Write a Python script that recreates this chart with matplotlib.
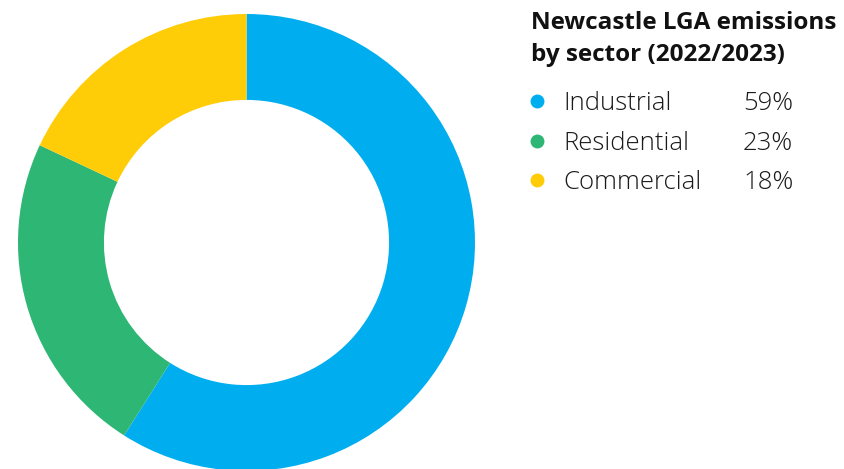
import matplotlib
matplotlib.use("Agg")
import matplotlib.pyplot as plt
from matplotlib.lines import Line2D

sectors = ["Industrial", "Residential", "Commercial"]
shares = [59, 23, 18]
colors = ["#00AEEF", "#2DB674", "#FFCC08"]
title_lines = ["Newcastle LGA emissions", "by sector (2022/2023)"]

plt.rcParams['font.family'] = ['Open Sans', 'DejaVu Sans']

W, H = 844, 469
fig = plt.figure(figsize=(W / 100, H / 100), dpi=100)

# donut axes, placed in pixel terms
cx, cy, r = 246.5, 242.5, 228.5
ax = fig.add_axes([(cx - r) / W, (H - cy - r) / H, 2 * r / W, 2 * r / H])
ax.pie(shares, colors=colors, startangle=90, counterclock=False, radius=1,
       wedgeprops=dict(width=0.376, linewidth=0))
ax.set_xlim(-1, 1)
ax.set_ylim(-1, 1)
ax.set_aspect('equal')
ax.axis('off')

# legend block on the right
for line, base in zip(title_lines, [29, 61]):
    fig.text(531 / W, 1 - base / H, line, fontsize=17.5, fontweight='bold',
             color='#111111', va='baseline', ha='left')

dot_y = [101.5, 140.5, 179.5]
text_base = [110, 150, 189]
for name, val, col, dy, ty in zip(sectors, shares, colors, dot_y, text_base):
    fig.add_artist(Line2D([537 / W], [1 - dy / H], marker='o', markersize=10,
                          color=col, markeredgewidth=0,
                          transform=fig.transFigure))
    fig.text(563 / W, 1 - ty / H, name, fontsize=18.5, fontweight='light',
             color='#1a1a1a', ha='left', va='baseline')
    fig.text(743 / W, 1 - ty / H, f"{val}%", fontsize=18.5, fontweight='light',
             color='#1a1a1a', ha='left', va='baseline')

fig.savefig("out.png", dpi=100)
